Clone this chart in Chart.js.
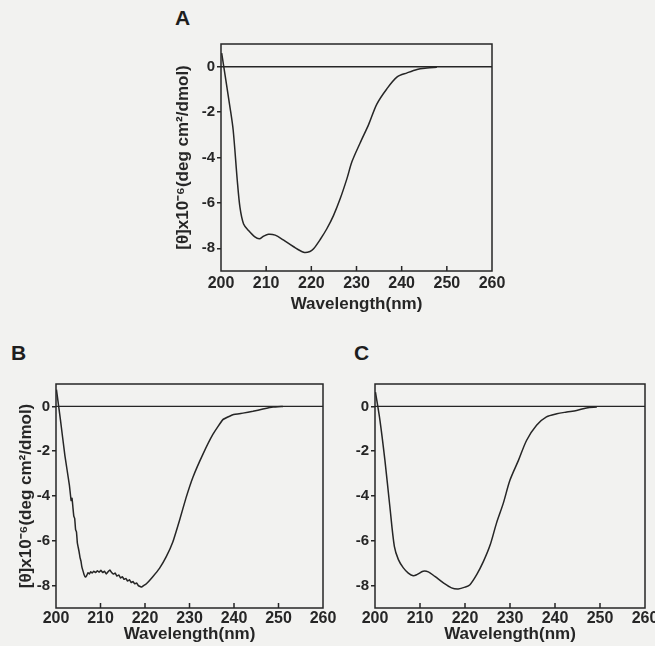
<!DOCTYPE html>
<html>
<head>
<meta charset="utf-8">
<script src="https://cdn.jsdelivr.net/npm/chart.js@4.4.0/dist/chart.umd.min.js"></script>
<style>
  body { margin: 0; background: #f2f2f0; width: 655px; height: 646px; position: relative; overflow: hidden; font-family: "Liberation Sans", Arial, sans-serif; }
  canvas { position: absolute; }
  .lbl { position: absolute; font-weight: bold; font-size: 21px; line-height: 21px; color: #1e1e1e; }
</style>
</head>
<body>
<div class="lbl" style="left:175px;top:7px">A</div>
<div class="lbl" style="left:11px;top:342px">B</div>
<div class="lbl" style="left:354px;top:342px">C</div>
<canvas id="chartA" width="345" height="285" style="left:170px;top:30px"></canvas>
<canvas id="chartB" width="345" height="273" style="left:0px;top:373px"></canvas>
<canvas id="chartC" width="335" height="273" style="left:340px;top:373px"></canvas>
<script>
/* CD spectra, molar ellipticity x10^-6 vs wavelength */
const xTicks = [200, 210, 220, 230, 240, 250, 260];
const yTicks = [-8, -6, -4, -2, 0];
const zeroX = [200, 260];
const zeroY = [0, 0];

const wlA = [200.15, 202.0, 202.7, 203.6, 204.2, 205.0, 206.1, 207.5, 208.5, 209.4, 210.5, 212.0,
             213.8, 216.0, 218.3, 219.7, 220.5, 222.0, 223.4, 224.9, 226.4, 227.9, 229.0, 230.8,
             232.7, 234.5, 236.7, 239.0, 241.2, 243.4, 245.6, 247.8];
const valA = [0.6, -1.8, -2.8, -5.0, -6.2, -6.93, -7.22, -7.5, -7.58, -7.47, -7.38, -7.42,
              -7.63, -7.92, -8.17, -8.14, -8.02, -7.6, -7.15, -6.56, -5.81, -4.92, -4.18, -3.36,
              -2.54, -1.65, -0.98, -0.45, -0.27, -0.12, -0.06, -0.02];

const wlB = [200.1, 201, 202, 203, 203.4, 203.6, 203.8, 204.0, 204.2, 204.4, 204.6, 204.8, 205.0,
             205.2, 205.4, 205.6, 205.8, 206.0, 206.3, 206.6, 206.9, 207.2, 207.5, 207.8, 208.1,
             208.5, 208.9, 209.3, 209.7, 210.1, 210.5, 210.9, 211.3, 211.7, 212.1, 212.5, 212.9,
             213.3, 213.7, 214.1, 214.5, 214.9, 215.3, 215.7, 216.1, 216.5, 216.9, 217.3, 217.7,
             218.1, 218.5, 218.9, 219.3, 219.7, 220.25, 221.75, 223.25, 224.75, 226.25, 227.75,
             229.25, 230.75, 233, 235.25, 237.5, 239.75, 242, 244.25, 246.5, 248.75, 251];
const valB = [0.75, -0.6, -2.2, -3.5, -4.2, -4.1, -4.5, -4.9, -5.0, -5.5, -5.6, -6.1, -6.3,
              -6.5, -6.75, -6.9, -7.15, -7.3, -7.5, -7.62, -7.55, -7.42, -7.48, -7.38, -7.44,
              -7.36, -7.42, -7.34, -7.4, -7.32, -7.42, -7.36, -7.48, -7.38, -7.3, -7.42, -7.48,
              -7.44, -7.58, -7.52, -7.66, -7.6, -7.72, -7.68, -7.8, -7.74, -7.86, -7.82, -7.92,
              -7.88, -8.0, -8.04, -8.06, -8.0, -7.93, -7.6, -7.23, -6.72, -6.05, -5.09,
              -4.06, -3.17, -2.14, -1.25, -0.59, -0.37, -0.3, -0.22, -0.12, -0.03, 0];

const wlC = [200.1, 201.1, 202.2, 203.3, 204.3, 205.2, 206.3, 207.4, 208.5, 209.4, 210.7, 211.85,
             213.3, 215.2, 217.0, 218.5, 220.0, 221.1, 222.6, 224.1, 225.6, 227.0, 228.5, 230.0,
             231.9, 233.7, 235.9, 238.1, 240.4, 242.6, 244.8, 247.0, 249.3];
const valC = [0.64, -0.62, -2.4, -4.47, -6.25, -6.84, -7.21, -7.44, -7.56, -7.5, -7.36, -7.39,
              -7.59, -7.88, -8.1, -8.15, -8.07, -7.96, -7.51, -6.92, -6.18, -5.21, -4.33, -3.29,
              -2.4, -1.51, -0.84, -0.47, -0.33, -0.25, -0.18, -0.07, -0.03];

const ink = "#262626";
const yTitle = "[\u03b8]x10\u207b\u2076(deg cm\u00b2/dmol)";

const frame = {
  id: "frame",
  afterDatasetsDraw(chart) {
    const { ctx, chartArea: a, scales: { x } } = chart;
    ctx.save();
    ctx.strokeStyle = ink;
    ctx.lineWidth = 1.5;
    ctx.strokeRect(a.left, a.top, a.right - a.left, a.bottom - a.top);
    ctx.beginPath();
    xTicks.slice(1, -1).forEach(v => {
      const px = x.getPixelForValue(v);
      ctx.moveTo(px, a.bottom);
      ctx.lineTo(px, a.bottom - 5);
    });
    ctx.stroke();
    ctx.restore();
  }
};

function makePanel(id, wl, val, o) {
  const pts = wl.map((w, i) => ({ x: w, y: val[i] }));
  const zero = zeroX.map((w, i) => ({ x: w, y: zeroY[i] }));
  return new Chart(document.getElementById(id), {
    type: "line",
    data: {
      datasets: [
        { data: zero, borderColor: ink, borderWidth: 1.4, pointRadius: 0, tension: 0 },
        { data: pts, borderColor: ink, borderWidth: 1.5, pointRadius: 0, tension: o.tension }
      ]
    },
    options: {
      responsive: false,
      animation: false,
      layout: { padding: { top: o.padTop, right: o.padRight, left: 0, bottom: 0 } },
      plugins: { legend: { display: false }, tooltip: { enabled: false } },
      scales: {
        x: {
          type: "linear", min: 200, max: 260,
          afterBuildTicks: s => { s.ticks = xTicks.map(v => ({ value: v })); },
          afterFit: s => { s.height = o.xh; },
          grid: { display: false, drawTicks: false },
          border: { display: false },
          ticks: { color: ink, padding: o.xtkPad, maxRotation: 0, font: { family: "Liberation Sans", size: 16, weight: "bold" } },
          title: { display: true, text: "Wavelength(nm)", color: ink, padding: { top: 0, bottom: o.xtPad },
                   font: { family: "Liberation Sans", size: 17, weight: "bold" } }
        },
        y: {
          type: "linear", min: -9, max: 1,
          afterBuildTicks: s => { s.ticks = yTicks.map(v => ({ value: v })); },
          afterFit: s => { s.width = o.yw; },
          grid: { drawOnChartArea: false, drawTicks: true, tickLength: 4, color: ink, lineWidth: 1.5 },
          border: { display: false },
          ticks: { color: ink, padding: 2, font: { family: "Liberation Sans", size: 15, weight: "bold" } },
          title: { display: o.yTitle, text: yTitle, color: ink, padding: { top: o.ytPad, bottom: 0 },
                   font: { family: "Liberation Sans", size: 17, weight: "bold" } }
        }
      }
    },
    plugins: [frame]
  });
}

makePanel("chartA", wlA, valA, { tension: 0.3, padTop: 14, padRight: 23, xh: 44, yw: 51, xtkPad: 3, xtPad: 0, ytPad: 3, yTitle: true });
makePanel("chartB", wlB, valB, { tension: 0.1, padTop: 10, padRight: 22, xh: 38, yw: 56, xtkPad: 1, xtPad: 1, ytPad: 16, yTitle: true });
makePanel("chartC", wlC, valC, { tension: 0.3, padTop: 11, padRight: 30, xh: 38, yw: 35, xtkPad: 1, xtPad: 1, ytPad: 0, yTitle: false });
</script>
</body>
</html>
